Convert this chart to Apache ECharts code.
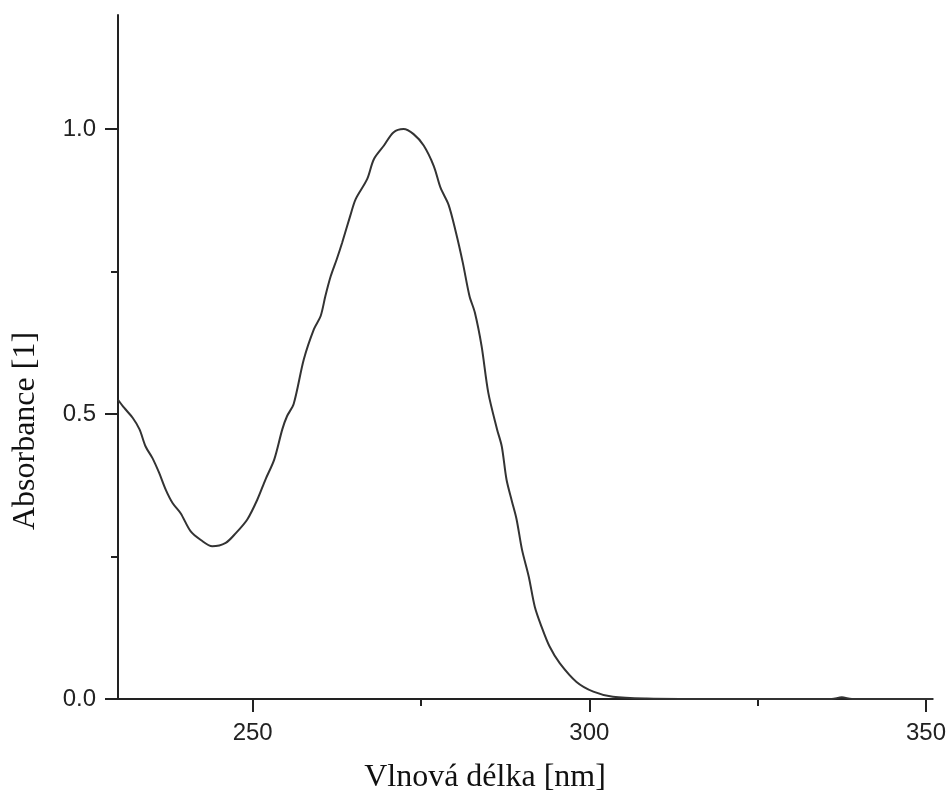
<!DOCTYPE html>
<html>
<head>
<meta charset="utf-8">
<script src="https://cdn.jsdelivr.net/npm/echarts@6/dist/echarts.min.js"></script>
<style>
  html, body { margin: 0; padding: 0; background: #fff; }
  #chart { width: 949px; height: 805px; }
</style>
</head>
<body>
<div id="chart"></div>
<script>
// wavelength [nm] and absorbance
const wavelength = [
  230, 230.9, 232.2, 233.2, 234.1, 235.1, 236.1, 237.1, 238.1, 239.3,
  240.8, 242.3, 244.0, 246.0, 247.5, 249.2, 250.7, 251.9, 253.2, 254.4,
  255.1, 256.1, 257.6, 259.1, 260.1, 260.8, 261.6, 262.5, 263.3, 264.5,
  265.3, 267.0, 268.0, 269.5, 270.9, 272.4, 273.9, 275.4, 276.9, 277.9,
  279.1, 280.2, 281.2, 282.2, 283.0, 284.0, 285.0, 286.3, 287.0, 287.7,
  288.5, 289.2, 290.0, 291.0, 291.9, 292.9, 294.1, 295.6, 298.1, 300.6,
  303.5, 308.5, 320, 336, 337.5, 339, 351
]
const absorbance = [
  0.525, 0.511, 0.493, 0.473, 0.443, 0.423, 0.397, 0.367, 0.344, 0.326,
  0.294, 0.279, 0.268, 0.274, 0.291, 0.315, 0.350, 0.385, 0.420, 0.473,
  0.496, 0.518, 0.596, 0.649, 0.672, 0.707, 0.742, 0.772, 0.801, 0.848,
  0.877, 0.912, 0.947, 0.971, 0.994, 1.000, 0.991, 0.971, 0.935, 0.897,
  0.867, 0.818, 0.766, 0.707, 0.678, 0.619, 0.537, 0.473, 0.443, 0.385,
  0.347, 0.315, 0.262, 0.215, 0.162, 0.127, 0.092, 0.063, 0.030, 0.013,
  0.004, 0.001, 0.000, 0.000, 0.003, 0.000, 0.000
]
const xMajorTicks = [250, 300, 350]
const xMinorTicks = [275, 325]
const yMajorTicks = [0, 0.5, 1.0]
const yMinorTicks = [0.25, 0.75]

const axisColor = '#222'
const labelFont = { color: '#222', fontSize: 24, fontFamily: 'Liberation Sans, Arial, sans-serif' }

const chart = echarts.init(document.getElementById('chart'))
chart.setOption({
  animation: false,
  grid: { left: 118, right: 16, top: 15, bottom: 106 },
  xAxis: [{
    type: 'value',
    min: 230,
    max: 351,
    axisLine: { lineStyle: { color: axisColor, width: 2 } },
    axisTick: { show: true, inside: false, length: 13, customValues: xMajorTicks, lineStyle: { color: axisColor, width: 2 } },
    axisLabel: Object.assign({ customValues: xMajorTicks, margin: 22 }, labelFont),
    splitLine: { show: false }
  }, {
    type: 'value',
    min: 230,
    max: 351,
    position: 'bottom',
    axisLine: { show: false },
    axisTick: { show: true, length: 7, customValues: xMinorTicks, lineStyle: { color: axisColor, width: 2 } },
    axisLabel: { show: false },
    splitLine: { show: false }
  }],
  yAxis: [{
    type: 'value',
    min: 0,
    max: 1.2,
    axisLine: { show: true, lineStyle: { color: axisColor, width: 2 } },
    axisTick: { show: true, length: 13, customValues: yMajorTicks, lineStyle: { color: axisColor, width: 2 } },
    axisLabel: Object.assign({ customValues: yMajorTicks, margin: 22, formatter: v => v.toFixed(1) }, labelFont),
    splitLine: { show: false }
  }, {
    type: 'value',
    min: 0,
    max: 1.2,
    position: 'left',
    axisLine: { show: false },
    axisTick: { show: true, length: 7, customValues: yMinorTicks, lineStyle: { color: axisColor, width: 2 } },
    axisLabel: { show: false },
    splitLine: { show: false }
  }],
  graphic: [{
    type: 'text',
    x: 485,
    y: 778,
    style: {
      text: 'Vlnová délka [nm]',
      font: '32px "Liberation Serif", "Times New Roman", serif',
      fill: '#111',
      align: 'center',
      verticalAlign: 'middle'
    }
  }, {
    type: 'text',
    x: 26,
    y: 431,
    rotation: Math.PI / 2,
    style: {
      text: 'Absorbance [1]',
      font: '32px "Liberation Serif", "Times New Roman", serif',
      fill: '#111',
      align: 'center',
      verticalAlign: 'middle'
    }
  }],
  series: [{
    type: 'line',
    xAxisIndex: 0,
    yAxisIndex: 0,
    data: wavelength.map((w, i) => [w, absorbance[i]]),
    showSymbol: false,
    smooth: 0.3,
    lineStyle: { color: '#333', width: 2 }
  }]
})
</script>
</body>
</html>
